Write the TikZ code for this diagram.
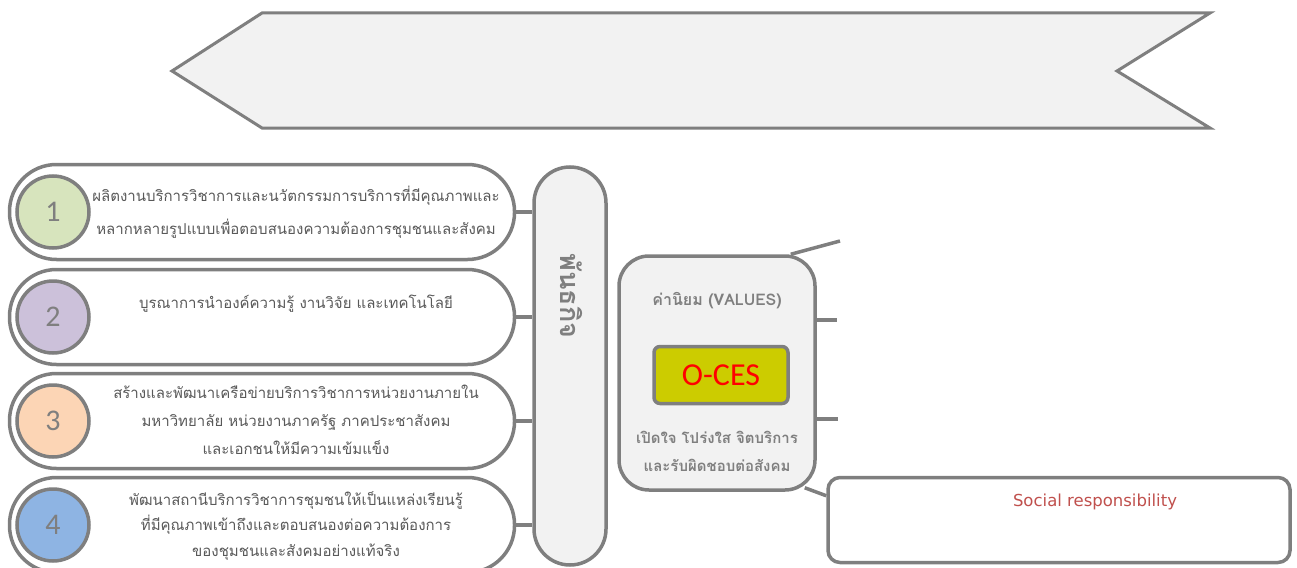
\documentclass[tikz,border=0pt]{standalone}
\usepackage{fontspec}
\newfontfamily\thaifont[Script=Thai]{Loma}
\newfontfamily\carfont{Carlito}
\newfontfamily\dejafont{DejaVu Sans}
\usetikzlibrary{positioning}
\definecolor{lineg}{HTML}{7F7F7F}
\definecolor{paleg}{HTML}{F2F2F2}
\definecolor{txtg}{HTML}{595959}
\definecolor{cOne}{HTML}{D7E4BD}
\definecolor{cTwo}{HTML}{CCC1DA}
\definecolor{cThree}{HTML}{FCD5B5}
\definecolor{cFour}{HTML}{8EB4E3}
\definecolor{ocesfill}{HTML}{CCCC00}
\definecolor{socred}{HTML}{C0504D}
\tikzset{
	pill/.style={draw=lineg,line width=3.5pt,fill=white,minimum width=505pt,minimum height=95pt,rounded corners=47pt},
	numball/.style={draw=lineg,line width=3.5pt,circle,minimum size=72pt,inner sep=0pt,text=lineg,font=\carfont\fontsize{30}{30}\selectfont},
	link/.style={draw=lineg,line width=3.5pt}
}
\begin{document}
\begin{tikzpicture}[x=1pt,y=-1pt]
\clip (0,0) rectangle (1297,567);
% banner
\draw[draw=lineg,fill=paleg,line width=3pt] (172,71) -- (262,13) -- (1210,13) -- (1117,71) -- (1210,128) -- (262,128) -- cycle;
% mission bar
\node[draw=lineg,fill=paleg,line width=3.5pt,minimum width=72pt,minimum height=398pt,rounded corners=36pt] (mis) at (570,366) {};
\node[rotate=-90,text=lineg,font=\thaifont\bfseries\fontsize{27}{27}\selectfont] (mistxt) at (571,296) {พันธกิจ};
% mission items
\foreach \i/\col/\y/\ty/\sp/\txt in {
	1/cOne/212/212/33/{ผลิตงานบริการวิชาการและนวัตกรรมการบริการที่มีคุณภาพและ\\หลากหลายรูปแบบเพื่อตอบสนองความต้องการชุมชนและสังคม},
	2/cTwo/317/304/28/{บูรณาการนำองค์ความรู้ งานวิจัย และเทคโนโลยี},
	3/cThree/421/420/28/{สร้างและพัฒนาเครือข่ายบริการวิชาการหน่วยงานภายใน\\มหาวิทยาลัย หน่วยงานภาครัฐ ภาคประชาสังคม\\และเอกชนให้มีความเข้มแข็ง},
	4/cFour/525/526/25.5/{พัฒนาสถานีบริการวิชาการชุมชนให้เป็นแหล่งเรียนรู้\\ที่มีคุณภาพเข้าถึงและตอบสนองต่อความต้องการ\\ของชุมชนและสังคมอย่างแท้จริง}} {
	\node[pill] (p\i) at (262,\y) {};
	\node[numball,fill=\col] (n\i) at (53,\y) {\i};
	\node[align=center,text=txtg,font=\thaifont\fontsize{15}{\sp}\selectfont] (t\i) at (296,\ty) {\txt};
	\draw[link] (p\i.east) -- (p\i.east -| mis.west);
}
% values
\node[draw=lineg,fill=paleg,line width=3.5pt,minimum width=196pt,minimum height=234pt,rounded corners=30pt] (val) at (717,373) {};
\node[text=lineg,font=\thaifont\bfseries\fontsize{16}{16}\selectfont] (valtitle) at (717,301) {ค่านิยม (VALUES)};
\node[draw=lineg,fill=ocesfill,line width=3.5pt,minimum width=134pt,minimum height=57pt,rounded corners=6pt,text=red,font=\carfont\fontsize{32}{32}\selectfont] (oces) at (721,375) {O-CES};
\node[align=center,text=lineg,font=\thaifont\bfseries\fontsize{15}{28}\selectfont] (valtxt) at (717,451) {เปิดใจ โปร่งใส จิตบริการ\\และรับผิดชอบต่อสังคม};
% value links
\coordinate (v1) at (840,241);
\coordinate (v2) at (837,320);
\coordinate (v3) at (838,419);
\draw[link] ([xshift=-26pt]val.north east) -- (v1);
\draw[link] (v2 -| val.east) -- (v2);
\draw[link] (v3 -| val.east) -- (v3);
% social box
\node[draw=lineg,line width=3.5pt,fill=white,minimum width=462pt,minimum height=85pt,rounded corners=12pt] (soc) at (1059,520) {};
\node[text=socred,font=\dejafont\fontsize{16.5}{16.5}\selectfont] (soctxt) at (1095,502) {Social responsibility};
\draw[link] ([xshift=-12pt,yshift=4pt]val.south east) -- ([yshift=-20pt]soc.north west);
\end{tikzpicture}
\end{document}
